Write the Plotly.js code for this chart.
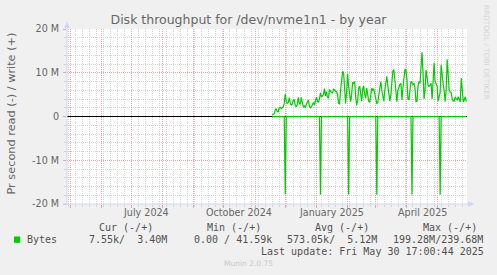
<!DOCTYPE html>
<html><head><meta charset="utf-8">
<script src="https://cdn.plot.ly/plotly-3.0.1.min.js"></script>
<style>html,body{margin:0;padding:0;background:#f0f0f0;overflow:hidden}#chart{width:497px;height:275px;}</style>
</head><body><div id="chart"></div>
<script>
// ---- data (values in M bytes/s, one point per day starting at startDate) ----
const startDate = '2024-11-18';
const writeM = [
0.4,0.5,0.6,1.5,1.8,1.1,1.1,2.0,2.1,1.8,
2.0,2.2,3.0,5.1,3.5,3.0,3.2,4.3,3.0,2.6,
2.8,3.8,3.8,2.5,2.2,2.8,4.4,3.0,2.8,4.4,
3.2,2.2,2.4,2.0,2.8,3.6,3.8,2.4,2.0,2.2,
2.9,3.2,2.6,3.4,4.4,3.6,3.2,4.0,5.4,4.5,
4.7,5.0,6.4,4.7,5.7,4.4,4.2,6.2,5.7,5.6,
5.4,6.3,6.0,5.8,5.7,5.0,3.0,2.9,6.0,9.0,
10.3,10.0,6.0,3.0,5.5,9.7,7.0,5.2,3.4,5.0,
7.8,7.6,8.0,4.5,2.6,3.5,6.5,7.0,4.8,3.5,
6.3,7.0,5.0,4.2,6.5,4.8,3.5,3.2,5.5,6.5,
6.0,6.3,5.2,3.5,3.0,3.2,5.0,7.0,8.0,6.0,
5.0,3.5,6.0,8.5,9.2,7.0,5.5,3.5,5.0,8.0,
10.4,10.7,8.0,6.5,3.4,6.0,7.0,7.3,7.6,3.8,
6.5,9.5,10.8,10.6,8.5,4.0,3.8,6.0,8.0,7.8,
7.3,7.5,6.5,3.4,3.5,7.0,8.0,7.6,12.0,14.7,
10.0,4.0,6.0,10.6,9.0,7.2,6.8,7.4,7.6,4.0,
9.5,12.3,8.0,7.2,7.0,3.5,4.5,5.5,11.8,9.0,
7.4,6.0,3.4,6.0,13.1,9.5,6.0,5.6,5.5,4.0,
3.5,3.5,4.5,4.0,3.8,4.5,4.0,3.3,8.8,5.0,
3.4,3.8,4.5,3.4
];
const readM = [
-0.02,-0.03,-0.01,-0.04,-0.02,-0.05,-0.02,-0.03,-0.01,-0.02,
-0.03,-0.02,-0.04,-17.8,-0.03,-0.02,-0.01,-0.03,-0.02,-0.04,
-0.02,-0.01,-0.03,-0.02,-0.05,-0.02,-0.03,-0.02,-0.01,-0.03,
-0.02,-0.04,-0.02,-0.03,-0.01,-0.02,-0.03,-0.02,-0.04,-0.02,
-0.03,-0.01,-0.02,-0.03,-0.02,-0.05,-0.02,-0.03,-17.9,-0.02,
-0.01,-0.03,-0.02,-0.04,-0.02,-0.01,-0.03,-0.02,-0.02,-0.04,
-0.02,-0.03,-0.01,-0.02,-0.03,-0.02,-0.04,-0.02,-0.03,-0.01,
-0.02,-0.03,-0.02,-0.05,-0.02,-0.03,-17.8,-0.02,-0.01,-0.03,
-0.02,-0.04,-0.02,-0.01,-0.03,-0.02,-0.03,-0.02,-0.04,-0.02,
-0.01,-0.03,-0.02,-0.02,-0.04,-0.02,-0.03,-0.01,-0.02,-0.03,
-0.02,-0.04,-0.02,-0.03,-17.9,-0.02,-0.01,-0.03,-0.02,-0.04,
-0.02,-0.03,-0.01,-0.02,-0.03,-0.02,-0.05,-0.02,-0.03,-0.02,
-0.01,-0.03,-0.02,-0.04,-0.02,-0.01,-0.03,-0.02,-0.03,-0.02,
-0.04,-0.02,-0.01,-0.03,-0.02,-0.02,-0.04,-0.02,-0.03,-17.8,
-0.02,-0.03,-0.01,-0.02,-0.04,-0.02,-0.03,-0.02,-0.01,-0.03,
-0.02,-0.04,-0.02,-0.03,-0.01,-0.02,-0.03,-0.02,-0.04,-0.02,
-0.03,-0.01,-0.02,-0.03,-0.02,-0.05,-0.02,-17.9,-0.03,-0.02,
-0.01,-0.03,-0.02,-0.04,-0.02,-0.01,-0.03,-0.02,-0.03,-0.02,
-0.04,-0.02,-0.01,-0.03,-0.02,-0.02,-0.04,-0.02,-0.03,-0.02,
-0.02,-0.03,-0.02,-0.01
];
const xRange = ['2024-04-28 00:00', '2025-05-30 17:00'];
const yTickVals = [-20, -10, 0, 10, 20];
const yTickText = ['-20 M', '-10 M', '0', '10 M', '20 M'];
const xLabelDates = ['2024-07-16', '2024-10-16', '2025-01-16', '2025-04-16'];
const xLabelText = ['July 2024', 'October 2024', 'January 2025', 'April 2025'];
const seriesName = 'Bytes';
const legendHeaders = ['Cur (-/+)', 'Min (-/+)', 'Avg (-/+)', 'Max (-/+)'];
const legendValues = ['7.55k/  3.40M', '0.00 / 41.59k', '573.05k/  5.12M', '199.28M/239.68M'];
const lastUpdate = 'Last update: Fri May 30 17:00:44 2025';
const titleText = 'Disk throughput for /dev/nvme1n1 - by year';
const yTitleText = 'Pr second read (-) / write (+)';

// ---- layout helpers (pixel -> paper) ----
const L = 67, T = 29, W = 400, H = 175;
const px = p => (p - L) / W;
const py = p => (T + H - p) / H;
const nb = s => s.replace(/ /g, '\u00a0');

const green = '#00cc00';
const major = '#e7a6a6';
const minor = '#d2d2d2';
const axisC = '#cfd6f8';
const fontC = '#666666';
const legC = '#505050';

const traces = [
  {x0: startDate, dx: 86400000, y: readM, type: 'scatter', mode: 'lines',
   line: {color: green, width: 1.2}, name: seriesName + ' read', hoverinfo: 'skip'},
  {x0: startDate, dx: 86400000, y: writeM, type: 'scatter', mode: 'lines',
   line: {color: green, width: 1.2}, name: seriesName, hoverinfo: 'skip'}
];

const annotations = [];
xLabelDates.forEach((d, i) => annotations.push({
  x: d, xref: 'x', y: py(212.7), yref: 'paper', text: xLabelText[i], showarrow: false,
  xanchor: 'center', yanchor: 'middle', borderpad: 0, borderwidth: 0,
  font: {family: 'DejaVu Sans', size: 9.6, color: fontC}}));
const headerX = [98.7, 206.7, 315, 422.7];
const valueX = [89.3, 194.3, 287.3, 392.7];
legendHeaders.forEach((h, i) => annotations.push({
  x: px(headerX[i]), xref: 'paper', y: py(227.7), yref: 'paper', text: nb(h), showarrow: false,
  xanchor: 'left', yanchor: 'middle', borderpad: 0, borderwidth: 0,
  font: {family: 'DejaVu Sans Mono', size: 10, color: legC}}));
legendValues.forEach((v, i) => annotations.push({
  x: px(valueX[i]), xref: 'paper', y: py(239.7), yref: 'paper', text: nb(v), showarrow: false,
  xanchor: 'left', yanchor: 'middle', borderpad: 0, borderwidth: 0,
  font: {family: 'DejaVu Sans Mono', size: 10, color: legC}}));
annotations.push({x: px(26.7), xref: 'paper', y: py(239.7), yref: 'paper', text: seriesName,
  showarrow: false, xanchor: 'left', yanchor: 'middle', borderpad: 0, borderwidth: 0,
  font: {family: 'DejaVu Sans Mono', size: 10, color: legC}});
annotations.push({x: px(261), xref: 'paper', y: py(251.7), yref: 'paper', text: nb(lastUpdate),
  showarrow: false, xanchor: 'left', yanchor: 'middle', borderpad: 0, borderwidth: 0,
  font: {family: 'DejaVu Sans Mono', size: 10, color: legC}});
annotations.push({x: px(248), xref: 'paper', y: py(263.7), yref: 'paper', text: 'Munin 2.0.75',
  showarrow: false, xanchor: 'center', yanchor: 'middle', borderpad: 0, borderwidth: 0,
  font: {family: 'DejaVu Sans', size: 7.5, color: '#c8c8c8'}});
annotations.push({x: px(486.7), xref: 'paper', y: py(52.5), yref: 'paper', text: 'RRDTOOL / TOBI OETIKER',
  showarrow: false, xanchor: 'center', yanchor: 'middle', textangle: 90, borderpad: 0, borderwidth: 0,
  font: {family: 'DejaVu Sans', size: 7.4, color: '#d4d4d4'}});
annotations.push({x: px(10.5), xref: 'paper', y: py(114), yref: 'paper', text: yTitleText,
  showarrow: false, xanchor: 'center', yanchor: 'middle', textangle: -90, borderpad: 0, borderwidth: 0,
  font: {family: 'DejaVu Sans', size: 11.3, color: fontC}});

const shapes = [
  // y axis line + arrow
  {type: 'line', xref: 'paper', yref: 'paper', x0: 0, x1: 0, y0: py(205), y1: py(25), line: {color: axisC, width: 1}},
  {type: 'path', xref: 'paper', yref: 'paper',
   path: `M ${px(64)} ${py(28)} L ${px(70)} ${py(28)} L ${px(67)} ${py(21.5)} Z`, fillcolor: axisC, line: {width: 0}},
  // x axis line + arrow
  {type: 'line', xref: 'paper', yref: 'paper', x0: px(63), x1: px(470), y0: 0, y1: 0, line: {color: axisC, width: 1}},
  {type: 'path', xref: 'paper', yref: 'paper',
   path: `M ${px(468)} ${py(201)} L ${px(468)} ${py(207)} L ${px(474.5)} ${py(204)} Z`, fillcolor: axisC, line: {width: 0}},
  // legend colour box
  {type: 'rect', xref: 'paper', yref: 'paper', x0: px(14), x1: px(20.3), y0: py(242.8), y1: py(236.5),
   fillcolor: green, line: {width: 0}}
];

const layout = {
  width: 497, height: 275,
  margin: {l: L, r: 497 - L - W, t: T, b: 275 - T - H, pad: 0},
  paper_bgcolor: '#f0f0f0', plot_bgcolor: '#ffffff',
  showlegend: false,
  title: {text: titleText, x: 0.5, xref: 'container', xanchor: 'center',
          y: 1 - 19.3 / 275, yref: 'container', yanchor: 'middle',
          font: {family: 'DejaVu Sans', size: 12.5, color: fontC}},
  xaxis: {type: 'date', range: xRange, fixedrange: true,
          tickmode: 'linear', tick0: '2024-05-01', dtick: 'M1',
          showticklabels: false, ticks: 'outside', ticklen: 3, tickcolor: major, tickwidth: 1,
          showgrid: true, gridcolor: major, griddash: '1px,1px', gridwidth: 1,
          zeroline: false, showline: false,
          minor: {tick0: '2024-04-29', dtick: 604800000, showgrid: true, gridcolor: minor,
                  griddash: '1px,1px', ticks: 'outside', ticklen: 2, tickcolor: minor}},
  yaxis: {range: [-20, 20], fixedrange: true,
          tickmode: 'array', tickvals: yTickVals, ticktext: yTickText,
          ticks: 'outside', ticklen: 3, tickcolor: major, ticklabelstandoff: 2,
          tickfont: {family: 'DejaVu Sans', size: 9.6, color: fontC},
          showgrid: true, gridcolor: major, griddash: '1px,1px', gridwidth: 1,
          zeroline: true, zerolinecolor: '#000000', zerolinewidth: 1,
          showline: false,
          minor: {tick0: 0, dtick: 2, showgrid: true, gridcolor: minor, griddash: '1px,1px',
                  ticks: 'outside', ticklen: 2, tickcolor: minor}},
  annotations: annotations,
  shapes: shapes
};

Plotly.newPlot('chart', traces, layout, {staticPlot: true, displayModeBar: false});
</script>
</body></html>
